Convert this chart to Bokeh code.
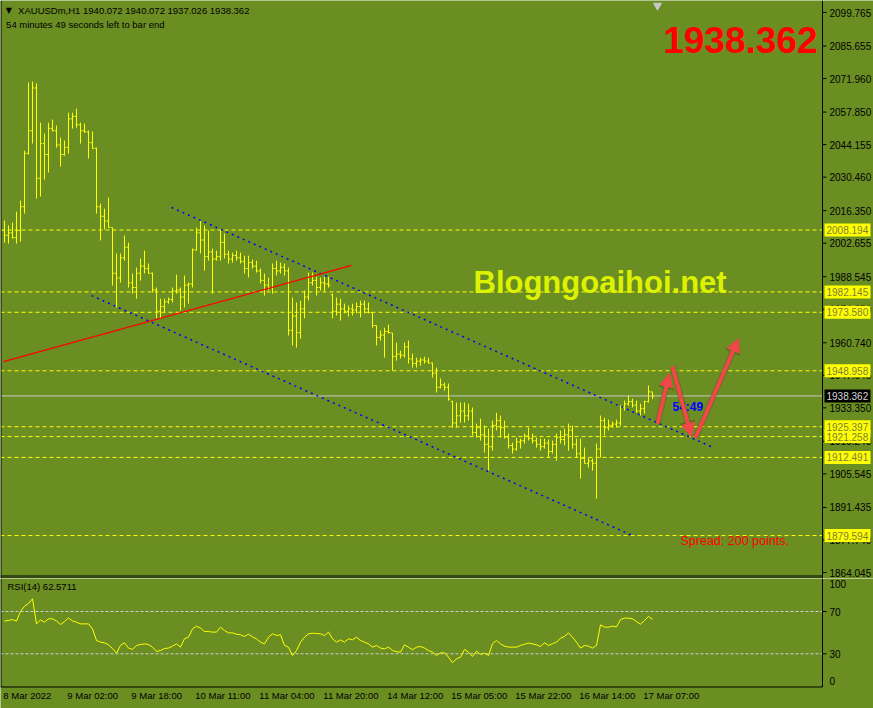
from bokeh.plotting import figure
from bokeh.models import Range1d, Label, Arrow, NormalHead, ColumnDataSource
from bokeh.layouts import column
from bokeh.embed import file_html
from bokeh.resources import INLINE
from bokeh.core.properties import value

# ---------------- data ----------------
symbol = "XAUUSDm,H1"
time_left = "54 minutes 49 seconds left to bar end"
countdown = "54:49"
spread_points = 200
site = "Blogngoaihoi.net"

opens = [
    2008.0, 2006.0, 2007.0, 2005.0, 2008.0, 2018.0, 2040.5, 2050.0, 2068.0, 2030.0,
    2044.6, 2040.0, 2051.0, 2050.0, 2044.0, 2040.0, 2043.0, 2055.0, 2056.0, 2052.5,
    2050.0, 2049.5, 2045.0, 2042.6, 2018.0, 2014.0, 2012.0, 2009.2, 1990.0, 1988.0,
    1996.5, 2001.0, 1986.0, 1984.0, 1990.0, 1993.0, 1992.0, 1990.0, 1983.0, 1974.0,
    1976.0, 1978.0, 1979.0, 1982.5, 1983.0, 1980.0, 1985.0, 1985.5, 1999.8, 2007.0,
    2004.0, 1997.0, 1999.0, 1996.0, 1997.0, 2003.0, 1998.0, 1996.0, 1997.5, 1996.5,
    1995.0, 1992.0, 1994.5, 1993.0, 1991.0, 1987.0, 1985.0, 1984.0, 1992.0, 1991.0,
    1992.5, 1991.0, 1966.0, 1972.0, 1965.0, 1975.0, 1980.0, 1986.0, 1987.0, 1984.0,
    1986.0, 1985.5, 1981.0, 1974.0, 1977.0, 1975.0, 1974.0, 1975.0, 1974.5, 1976.0,
    1977.0, 1975.0, 1973.5, 1968.0, 1963.0, 1964.0, 1965.5, 1964.9, 1955.0, 1956.0,
    1955.5, 1959.0, 1954.0, 1952.0, 1953.0, 1953.5, 1953.0, 1952.2, 1948.0, 1942.0,
    1943.0, 1942.0, 1936.0, 1927.0, 1930.0, 1932.0, 1930.0, 1932.0, 1923.0, 1925.0,
    1922.0, 1918.0, 1917.0, 1926.0, 1928.0, 1925.0, 1921.0, 1917.5, 1916.0, 1919.0,
    1919.5, 1921.5, 1920.5, 1919.5, 1918.0, 1917.0, 1918.5, 1915.0, 1918.0, 1921.0,
    1920.0, 1922.0, 1924.0, 1918.0, 1914.0, 1912.0, 1910.0, 1911.0, 1910.0, 1916.0,
    1928.0, 1925.0, 1926.0, 1926.5, 1927.0, 1933.5, 1935.0, 1936.0, 1934.5, 1932.0,
    1933.0, 1936.0, 1940.072]

highs = [
    2012.2, 2010.1, 2011.3, 2015.9, 2020.6, 2041.6, 2070.3, 2070.7, 2069.9, 2053.4,
    2048.8, 2053.4, 2054.7, 2052.2, 2047.1, 2045.9, 2057.6, 2057.6, 2059.3, 2053.4,
    2053.0, 2050.1, 2049.7, 2042.9, 2019.3, 2017.2, 2021.9, 2009.2, 1998.3, 1998.3,
    2005.9, 2002.9, 1989.9, 1992.4, 1996.2, 1999.5, 1994.1, 1990.3, 1984.0, 1979.3,
    1979.3, 1979.8, 1984.0, 1989.4, 1984.0, 1989.0, 1986.1, 2000.4, 2009.2, 2012.2,
    2010.1, 2008.0, 2000.4, 1999.5, 2008.4, 2006.7, 1999.5, 1998.7, 1999.5, 1998.7,
    1997.4, 1997.4, 1995.8, 1995.3, 1992.0, 1989.9, 1988.2, 1994.1, 1995.3, 1994.5,
    1994.1, 1992.4, 1979.8, 1977.7, 1978.5, 1982.7, 1990.3, 1990.3, 1988.6, 1988.2,
    1988.6, 1988.6, 1981.4, 1979.8, 1979.3, 1977.2, 1976.4, 1977.2, 1977.7, 1978.5,
    1978.5, 1977.7, 1973.5, 1968.0, 1965.9, 1967.1, 1968.4, 1964.9, 1960.8, 1957.4,
    1960.8, 1961.7, 1956.2, 1954.5, 1954.5, 1954.9, 1954.5, 1952.4, 1950.3, 1945.7,
    1944.0, 1943.6, 1936.4, 1935.6, 1935.6, 1935.6, 1935.1, 1933.5, 1926.7, 1928.8,
    1925.9, 1924.6, 1928.0, 1931.3, 1930.1, 1928.0, 1922.5, 1918.7, 1920.8, 1920.4,
    1922.5, 1925.0, 1922.5, 1920.8, 1920.4, 1920.4, 1920.0, 1919.6, 1922.5, 1923.8,
    1924.6, 1926.7, 1925.9, 1920.4, 1920.4, 1916.6, 1912.4, 1912.0, 1918.3, 1930.1,
    1929.2, 1928.4, 1927.6, 1928.4, 1934.3, 1936.4, 1938.5, 1937.2, 1936.4, 1935.1,
    1936.4, 1942.7, 1940.072]

lows = [
    2002.9, 2002.5, 2004.6, 2002.5, 2003.3, 2015.1, 2040.0, 2044.6, 2021.4, 2022.3,
    2029.4, 2032.4, 2049.7, 2042.9, 2034.9, 2039.5, 2040.4, 2050.9, 2051.3, 2044.6,
    2049.2, 2038.3, 2042.5, 2015.1, 2003.8, 2008.4, 2009.2, 1984.8, 1975.6, 1986.1,
    1995.3, 1984.0, 1981.4, 1979.3, 1986.9, 1989.9, 1989.9, 1981.9, 1971.0, 1971.0,
    1973.5, 1977.2, 1977.7, 1981.4, 1974.3, 1975.6, 1977.2, 1984.0, 1999.5, 1998.3,
    1991.1, 1995.3, 1981.4, 1995.3, 1995.3, 1996.2, 1994.1, 1994.5, 1995.3, 1994.1,
    1989.9, 1988.2, 1992.0, 1990.3, 1985.7, 1980.6, 1982.7, 1981.4, 1989.0, 1989.9,
    1989.0, 1963.8, 1959.6, 1958.7, 1962.5, 1971.0, 1978.5, 1984.8, 1980.6, 1982.7,
    1982.3, 1984.0, 1971.0, 1972.2, 1970.1, 1973.1, 1971.8, 1972.2, 1973.1, 1971.4,
    1973.1, 1973.1, 1967.1, 1959.6, 1961.7, 1954.5, 1964.6, 1949.0, 1953.2, 1954.1,
    1954.5, 1952.0, 1950.3, 1950.3, 1951.1, 1952.0, 1952.0, 1946.1, 1939.8, 1941.5,
    1940.6, 1936.4, 1925.0, 1925.0, 1927.1, 1927.1, 1928.0, 1921.7, 1920.8, 1919.6,
    1914.5, 1906.9, 1915.3, 1923.8, 1920.8, 1920.4, 1916.2, 1914.1, 1915.3, 1916.2,
    1918.3, 1919.6, 1918.3, 1916.6, 1915.3, 1916.2, 1912.4, 1914.1, 1911.1, 1918.3,
    1917.5, 1915.3, 1916.2, 1912.4, 1903.6, 1909.9, 1908.2, 1906.9, 1895.1, 1912.4,
    1921.7, 1923.8, 1925.0, 1925.0, 1925.9, 1932.2, 1934.3, 1933.5, 1931.3, 1930.1,
    1930.9, 1935.6, 1937.026]

closes = [
    2006.0, 2007.0, 2005.0, 2008.0, 2018.0, 2040.5, 2050.0, 2068.0, 2030.0, 2044.6,
    2040.0, 2051.0, 2050.0, 2044.0, 2040.0, 2043.0, 2055.0, 2056.0, 2052.5, 2050.0,
    2049.5, 2045.0, 2042.6, 2018.0, 2014.0, 2012.0, 2009.3, 1990.0, 1988.0, 1996.5,
    2001.0, 1986.0, 1984.0, 1990.0, 1993.0, 1992.0, 1990.0, 1983.0, 1974.0, 1976.0,
    1978.0, 1979.0, 1982.5, 1983.0, 1980.0, 1985.0, 1985.5, 1999.8, 2007.0, 2004.0,
    1997.0, 1999.0, 1996.0, 1997.0, 2003.0, 1998.0, 1996.0, 1997.5, 1996.5, 1995.0,
    1992.0, 1994.5, 1993.0, 1991.0, 1987.0, 1985.0, 1984.0, 1992.0, 1991.0, 1992.5,
    1991.0, 1966.0, 1972.0, 1965.0, 1975.0, 1980.0, 1986.0, 1987.0, 1984.0, 1986.0,
    1985.5, 1985.0, 1974.0, 1977.0, 1975.0, 1974.0, 1975.0, 1974.5, 1976.0, 1977.0,
    1975.0, 1973.5, 1968.0, 1963.0, 1964.0, 1965.5, 1965.0, 1955.0, 1956.0, 1955.5,
    1959.0, 1954.0, 1952.0, 1953.0, 1953.5, 1953.0, 1952.2, 1948.0, 1942.0, 1943.0,
    1942.0, 1937.0, 1927.0, 1930.0, 1932.0, 1930.0, 1932.0, 1923.0, 1925.0, 1922.0,
    1918.0, 1917.0, 1926.0, 1928.0, 1925.0, 1921.0, 1917.5, 1916.0, 1919.0, 1919.5,
    1921.5, 1920.5, 1919.5, 1918.0, 1917.0, 1918.5, 1915.0, 1918.0, 1921.0, 1920.0,
    1922.0, 1924.0, 1918.0, 1914.0, 1912.0, 1910.0, 1911.0, 1910.0, 1916.0, 1928.0,
    1925.0, 1926.0, 1926.5, 1927.0, 1933.5, 1935.0, 1936.0, 1934.5, 1932.0, 1933.0,
    1936.0, 1940.072, 1938.362]

rsi = [
    61.0, 61.5, 62.4, 60.9, 70.0, 75.0, 77.5, 82.0, 58.3, 62.1,
    59.9, 63.1, 63.1, 61.0, 57.7, 60.5, 64.0, 61.0, 59.9, 58.3,
    58.3, 58.3, 53.6, 42.6, 41.0, 40.4, 38.5, 35.0, 30.6, 38.0,
    40.4, 35.4, 34.1, 37.9, 38.8, 39.4, 38.8, 36.3, 32.2, 33.1,
    35.0, 35.4, 37.2, 39.4, 36.3, 44.2, 45.7, 53.6, 56.1, 54.3,
    51.1, 51.0, 50.5, 50.5, 55.2, 52.0, 49.8, 49.8, 48.5, 48.0,
    46.4, 48.6, 46.0, 44.2, 41.0, 39.4, 45.7, 48.9, 47.3, 48.0,
    37.9, 36.3, 28.4, 33.1, 41.0, 45.7, 48.9, 49.5, 49.2, 48.9,
    47.3, 50.5, 44.2, 41.0, 43.2, 41.0, 44.2, 43.2, 45.7, 42.6,
    41.0, 39.4, 36.3, 37.9, 35.4, 34.7, 36.3, 33.1, 32.0, 31.6,
    38.5, 36.3, 33.8, 36.3, 36.9, 35.4, 33.1, 31.6, 28.4, 30.9,
    30.9, 26.8, 21.5, 25.3, 26.8, 34.1, 31.6, 27.5, 32.5, 29.4,
    30.6, 28.4, 39.4, 42.6, 39.4, 37.2, 36.3, 36.3, 36.3, 37.9,
    39.0, 40.1, 39.4, 38.5, 36.9, 40.4, 37.9, 39.5, 41.0, 44.8,
    46.4, 49.8, 45.7, 41.0, 35.4, 37.9, 37.2, 35.4, 38.0, 57.4,
    55.2, 55.2, 56.1, 55.5, 62.4, 63.7, 63.7, 63.1, 60.5, 58.0,
    61.5, 65.3, 62.5711]

time_label_bars = [0, 16, 32, 48, 64, 80, 96, 112, 128, 144, 160]
time_labels = ["8 Mar 2022", "9 Mar 02:00", "9 Mar 18:00", "10 Mar 11:00",
               "11 Mar 04:00", "11 Mar 20:00", "14 Mar 12:00", "15 Mar 05:00",
               "15 Mar 22:00", "16 Mar 14:00", "17 Mar 07:00"]

price_ticks = [2099.765, 2085.655, 2071.960, 2057.850, 2044.155, 2030.460,
               2016.350, 2002.655, 1988.545, 1974.850, 1960.740, 1947.045,
               1933.350, 1919.240, 1905.545, 1891.435, 1877.740, 1864.045]

level_prices = [2008.194, 1982.145, 1973.580, 1948.958, 1925.397, 1921.258,
                1912.491, 1879.594]

upper_channel_x = [41.75, 177.25]
upper_channel_y = [2017.7, 1916.6]
lower_channel_x = [21.75, 157.0]
lower_channel_y = [1980.6, 1879.6]
red_line_x = [-0.25, 86.75]
red_line_y = [1952.8, 1993.3]

arrow_x0 = [163.25, 167.0, 172.75]
arrow_y0 = [1926.7, 1950.7, 1920.8]
arrow_x1 = [166.25, 171.75, 183.5]
arrow_y1 = [1947.8, 1921.3, 1962.5]

shift_marker_x = [163.25]
shift_marker_y = [2102.7]

rsi_levels = [30, 70]
rsi_scale_ends = [0, 100]
rsi_period = 14

# ---------------- styling / geometry ----------------
BG = "#6B8E23"
FONT = "Liberation Sans"
YEL = "#FFFF00"
FS = "10px"
FS_SMALL = "9.5px"

X0, X1 = -1.0, 217.25       # full figure width in bar units (4 px per bar)
CH_R = 204.5                # right edge of the chart area (price scale line)
P_LO, P_HI = 1862.57, 2104.82
P_FIG_LO = 1861.52          # bottom edge of the main figure
P_RSI_TOP = 1861.73         # top border of the RSI window
xr = Range1d(X0, X1)

p = figure(width=873, height=578, x_range=xr, y_range=Range1d(P_FIG_LO, P_HI),
           x_axis_location=None, y_axis_location=None,
           output_backend="svg", toolbar_location=None,
           min_border_left=0, min_border_right=0, min_border_top=0, min_border_bottom=0,
           background_fill_color=BG, border_fill_color=BG, outline_line_color=None)
p.grid.visible = False

idx = list(range(len(closes)))
src = ColumnDataSource(dict(x=idx, xl=[i - 0.42 for i in idx], xr=[i + 0.42 for i in idx],
                            o=opens, h=highs, l=lows, c=closes))

# current price line
p.segment(x0=[X0], y0=[closes[-1]], x1=[CH_R], y1=[closes[-1]], line_color="#C8C8C8", line_width=1)

# OHLC bars
p.segment("x", "l", "x", "h", source=src, line_color=YEL, line_width=1)
p.segment("xl", "o", "x", "o", source=src, line_color=YEL, line_width=1)
p.segment("x", "c", "xr", "c", source=src, line_color=YEL, line_width=1)

# horizontal levels
nl = len(level_prices)
p.segment(x0=[X0] * nl, y0=level_prices, x1=[CH_R] * nl, y1=level_prices,
          line_color=YEL, line_dash="4 3", line_width=1)

# trend lines
p.line(upper_channel_x, upper_channel_y, line_color="#0000FF", line_dash="2 4", line_width=1.5)
p.line(lower_channel_x, lower_channel_y, line_color="#0000FF", line_dash="2 4", line_width=1.5)
p.line(red_line_x, red_line_y, line_color="#FF0000", line_width=1.3)

p.scatter(shift_marker_x, shift_marker_y, marker="inverted_triangle", size=8,
          fill_color="#C8C8C8", line_color="#C8C8C8")

# chart borders and the price scale
p.line([X0 + 0.125, X0 + 0.125], [P_FIG_LO, P_HI], line_color="black", line_width=1)
p.line([X0, CH_R], [P_LO, P_LO], line_color="black", line_width=1)
p.line([X0, CH_R], [P_RSI_TOP, P_RSI_TOP], line_color="black", line_width=1)
p.line([CH_R, CH_R], [P_FIG_LO, P_HI], line_color="black", line_width=1)
nt = len(price_ticks)
p.segment(x0=[CH_R] * nt, y0=price_ticks, x1=[CH_R + 1.0] * nt, y1=price_ticks,
          line_color="black", line_width=1)
p.text(x=[CH_R + 1.75] * nt, y=price_ticks, text=[f"{t:.3f}" for t in price_ticks],
       text_font=value(FONT), text_font_size=FS, text_color="black",
       text_baseline="middle", text_align="left")

# price boxes on the scale
box_y = level_prices + [closes[-1]]
box_fill = [YEL] * nl + ["black"]
box_text_col = ["#7D7D3C"] * nl + ["#D8D8D8"]
p.rect(x=[CH_R + 6.25] * len(box_y), y=box_y, width=46, height=13,
       width_units="screen", height_units="screen",
       fill_color=box_fill, line_color=None)
p.text(x=[CH_R + 1.0] * len(box_y), y=box_y, text=[f"{v:.3f}" for v in box_y],
       text_font=value(FONT), text_font_size=FS, text_color=box_text_col,
       text_baseline="middle", text_align="left")

# texts
p.add_layout(Label(x=0.3, y=2100.6, text="\u25BC", text_font="DejaVu Sans",
                   text_font_size="8px", text_color="black", text_baseline="middle"))
p.add_layout(Label(x=3.4, y=2100.6,
                   text=f"{symbol}  {opens[-1]:.3f} {highs[-1]:.3f} {lows[-1]:.3f} {closes[-1]:.3f}",
                   text_font=FONT, text_font_size=FS_SMALL, text_color="black",
                   text_baseline="middle"))
p.add_layout(Label(x=0.4, y=2094.7, text=time_left, text_font=FONT, text_font_size=FS_SMALL,
                   text_color="black", text_baseline="middle"))
p.add_layout(Label(x=203.25, y=2088.4, text=f"{closes[-1]:.3f}", text_font=FONT,
                   text_font_size="37px", text_font_style="bold", text_color="#FF0000",
                   text_align="right", text_baseline="alphabetic"))
p.add_layout(Label(x=117.25, y=1986.1, text=site, text_font=FONT,
                   text_font_size="31px", text_font_style="bold", text_color="#DDF200",
                   text_baseline="alphabetic"))
p.add_layout(Label(x=167.0, y=1933.9, text=countdown, text_font=FONT,
                   text_font_size="12px", text_font_style="bold", text_color="#0000FF",
                   text_baseline="alphabetic"))
p.add_layout(Label(x=169.0, y=1877.1, text=f"Spread: {spread_points} points.", text_font=FONT,
                   text_font_size="12.5px", text_color="#FF0000", text_baseline="alphabetic"))

# arrows (shadow + body)
for x0, y0, x1, y1 in zip(arrow_x0, arrow_y0, arrow_x1, arrow_y1):
    p.add_layout(Arrow(x_start=x0, y_start=y0, x_end=x1, y_end=y1,
                       line_color="#4A3A1A", line_alpha=0.3, line_width=6,
                       end=NormalHead(size=15, fill_color="#4A3A1A", fill_alpha=0.3,
                                      line_color="#4A3A1A", line_alpha=0.3)))
for x0, y0, x1, y1 in zip(arrow_x0, arrow_y0, arrow_x1, arrow_y1):
    p.add_layout(Arrow(x_start=x0, y_start=y0, x_end=x1, y_end=y1,
                       line_color="#F04848", line_width=4,
                       end=NormalHead(size=13, fill_color="#F04848", line_color="#F04848")))

# ---------------- RSI panel ----------------
R_LO, R_HI = -1.42, 101.3
r = figure(width=873, height=130, x_range=xr, y_range=Range1d(-21.76, 101.23),
           x_axis_location=None, y_axis_location=None,
           output_backend="svg", toolbar_location=None,
           min_border_left=0, min_border_right=0, min_border_top=0, min_border_bottom=0,
           background_fill_color=BG, border_fill_color=BG, outline_line_color=None)
r.grid.visible = False

nr = len(rsi_levels)
r.segment(x0=[X0] * nr, y0=rsi_levels, x1=[CH_R] * nr, y1=rsi_levels,
          line_color="#D0D0D0", line_dash="3 2", line_width=1)
r.line(idx, rsi, line_color=YEL, line_width=1)

# panel borders and RSI scale
r.line([X0, CH_R], [R_LO, R_LO], line_color="black", line_width=1)
r.line([X0 + 0.125, X0 + 0.125], [R_LO, R_HI], line_color="black", line_width=1)
r.line([CH_R, CH_R], [R_LO, R_HI], line_color="black", line_width=1)
r.segment(x0=[CH_R] * nr, y0=rsi_levels, x1=[CH_R + 1.0] * nr, y1=rsi_levels,
          line_color="black", line_width=1)
r.text(x=[CH_R + 1.75] * nr, y=rsi_levels, text=[str(v) for v in rsi_levels],
       text_font=value(FONT), text_font_size=FS, text_color="black",
       text_baseline="middle", text_align="left")
r.text(x=[CH_R + 1.75], y=[rsi_scale_ends[1]], text=[str(rsi_scale_ends[1])],
       text_font=value(FONT), text_font_size=FS, text_color="black",
       text_baseline="top", text_align="left")
r.text(x=[CH_R + 1.75], y=[rsi_scale_ends[0]], text=[str(rsi_scale_ends[0])],
       text_font=value(FONT), text_font_size=FS, text_color="black",
       text_baseline="bottom", text_align="left")

r.add_layout(Label(x=0.75, y=93.7, text=f"RSI({rsi_period}) {rsi[-1]:.4f}", text_font=FONT,
                   text_font_size=FS_SMALL, text_color="black", text_baseline="middle"))

# time axis labels
r.text(x=[b - 0.3 for b in time_label_bars], y=[-4.3] * len(time_label_bars),
       text=time_labels, text_font=value(FONT), text_font_size=FS_SMALL, text_color="black",
       text_baseline="top", text_align="left")

layout = column(p, r)
open("out.html", "w").write(file_html(layout, INLINE))
